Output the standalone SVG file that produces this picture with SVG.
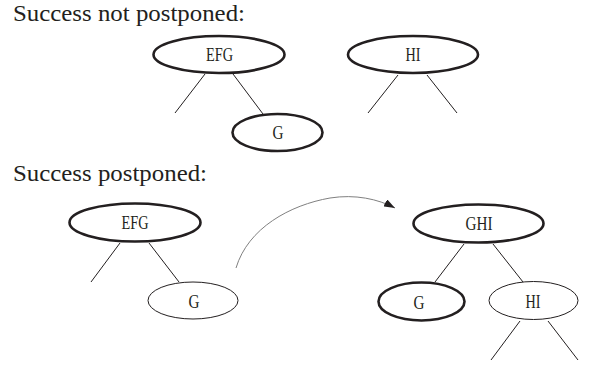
<svg xmlns="http://www.w3.org/2000/svg" width="596" height="367" viewBox="0 0 596 367">
  <style>
    .heading { font-family: "Liberation Serif", "Times New Roman", serif; font-size: 23px; fill: #231f20; }
    .label { font-family: "Liberation Serif", "Times New Roman", serif; font-size: 19px; fill: #231f20; text-anchor: middle; }
    .bold { fill: #ffffff; stroke: #231f20; stroke-width: 2.6; }
    .thin { fill: #ffffff; stroke: #231f20; stroke-width: 1; }
    .edge { stroke: #231f20; stroke-width: 1; fill: none; }
    .move { stroke: #808080; stroke-width: 1; fill: none; }
  </style>
  <defs>
    <marker id="arrowhead" markerUnits="userSpaceOnUse" markerWidth="11" markerHeight="8" refX="11" refY="4" orient="auto">
      <path d="M0,0 L11,4 L0,8 z" fill="#231f20"/>
    </marker>
  </defs>
  <rect width="596" height="367" fill="#ffffff"/>

  <text class="heading" x="13" y="21" textLength="232" lengthAdjust="spacingAndGlyphs">Success not postponed:</text>
  <text class="heading" x="13" y="181" textLength="194" lengthAdjust="spacingAndGlyphs">Success postponed:</text>

  <!-- tree edges and the move arrow -->
  <g id="connectors">
    <line class="edge" x1="205" y1="74" x2="175" y2="113"/>
    <line class="edge" x1="233" y1="74" x2="263" y2="114"/>
    <line class="edge" x1="398" y1="75" x2="368" y2="113"/>
    <line class="edge" x1="427" y1="75" x2="457" y2="113"/>
    <line class="edge" x1="120" y1="243" x2="91" y2="282"/>
    <line class="edge" x1="149" y1="243" x2="179" y2="282"/>
    <line class="edge" x1="464" y1="244" x2="435" y2="282"/>
    <line class="edge" x1="493" y1="244" x2="523" y2="282"/>
    <line class="edge" x1="520" y1="321" x2="491" y2="360"/>
    <line class="edge" x1="548" y1="321" x2="578" y2="360"/>
    <path class="move" d="M236,268 C248,228 290,205 330,198 C355,194 378,199 395,208" marker-end="url(#arrowhead)"/>
  </g>

  <g id="efg-top">
    <ellipse class="bold" cx="219" cy="54.5" rx="65.5" ry="18.5"/>
    <text class="label" x="219.5" y="60.5" textLength="27" lengthAdjust="spacingAndGlyphs">EFG</text>
  </g>
  <g id="g-top">
    <ellipse class="bold" cx="277.5" cy="132.5" rx="45" ry="18.5"/>
    <text class="label" x="278" y="139" textLength="11" lengthAdjust="spacingAndGlyphs">G</text>
  </g>
  <g id="hi-top">
    <ellipse class="bold" cx="413" cy="54.5" rx="65" ry="18.5"/>
    <text class="label" x="413" y="60.5" textLength="15" lengthAdjust="spacingAndGlyphs">HI</text>
  </g>

  <g id="efg-bottom">
    <ellipse class="bold" cx="135" cy="222.5" rx="65.5" ry="19"/>
    <text class="label" x="135" y="229" textLength="27" lengthAdjust="spacingAndGlyphs">EFG</text>
  </g>
  <g id="g-moved">
    <ellipse class="thin" cx="193" cy="300.5" rx="45" ry="18.5"/>
    <text class="label" x="194" y="308" textLength="11" lengthAdjust="spacingAndGlyphs">G</text>
  </g>
  <g id="ghi">
    <ellipse class="bold" cx="478.5" cy="223.5" rx="65" ry="19"/>
    <text class="label" x="479" y="230" textLength="27" lengthAdjust="spacingAndGlyphs">GHI</text>
  </g>
  <g id="g-leaf">
    <ellipse class="bold" cx="421.5" cy="301.5" rx="43" ry="19"/>
    <text class="label" x="419" y="309" textLength="11" lengthAdjust="spacingAndGlyphs">G</text>
  </g>
  <g id="hi-split">
    <ellipse class="thin" cx="533.5" cy="300.5" rx="44.5" ry="19"/>
    <text class="label" x="533" y="308" textLength="15" lengthAdjust="spacingAndGlyphs">HI</text>
  </g>
</svg>
